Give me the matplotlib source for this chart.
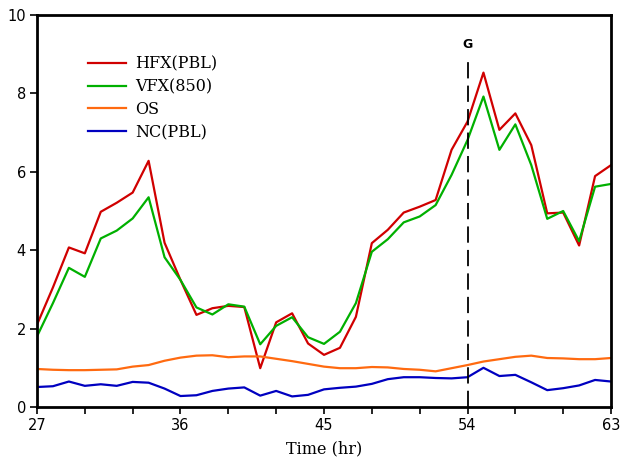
import numpy as np
import matplotlib
matplotlib.use("Agg")
import matplotlib.pyplot as plt

# hourly time axis (hr)
hours = list(range(27, 64))

hfx_pbl = [2.10, 3.05, 4.07, 3.92, 4.98, 5.21, 5.47, 6.28, 4.19, 3.24,
           2.35, 2.52, 2.58, 2.55, 0.99, 2.16, 2.39, 1.62, 1.33, 1.51,
           2.30, 4.18, 4.52, 4.96, 5.11, 5.28, 6.56, 7.28, 8.53, 7.07,
           7.49, 6.68, 4.94, 4.96, 4.12, 5.89, 6.17]

vfx_850 = [1.80, 2.65, 3.55, 3.32, 4.30, 4.50, 4.81, 5.35, 3.82, 3.24,
           2.54, 2.36, 2.62, 2.56, 1.60, 2.07, 2.29, 1.78, 1.61, 1.92,
           2.65, 3.96, 4.28, 4.71, 4.86, 5.15, 5.92, 6.81, 7.92, 6.56,
           7.21, 6.17, 4.80, 5.00, 4.23, 5.62, 5.69]

os_vals = [0.97, 0.95, 0.94, 0.94, 0.95, 0.96, 1.03, 1.07, 1.18, 1.26,
           1.31, 1.32, 1.27, 1.29, 1.29, 1.23, 1.17, 1.10, 1.03, 0.99,
           0.99, 1.02, 1.01, 0.97, 0.95, 0.91, 0.99, 1.07, 1.16, 1.22,
           1.28, 1.31, 1.25, 1.24, 1.22, 1.22, 1.25]

nc_pbl = [0.51, 0.53, 0.65, 0.54, 0.58, 0.54, 0.64, 0.62, 0.47, 0.28,
          0.30, 0.41, 0.47, 0.50, 0.29, 0.41, 0.27, 0.31, 0.45, 0.49,
          0.52, 0.59, 0.71, 0.76, 0.76, 0.74, 0.73, 0.76, 1.00, 0.79,
          0.82, 0.63, 0.43, 0.48, 0.55, 0.69, 0.65]

labels = ["HFX(PBL)", "VFX(850)", "OS", "NC(PBL)"]
colors = ["#d00000", "#00b000", "#ff6a10", "#0000c0"]

xticks = [27, 36, 45, 54, 63]
g_time = 54

fig = plt.figure(figsize=(6.27, 4.57), dpi=100)
ax = fig.add_axes([0.059, 0.1094, 0.9155, 0.8578])

for vals, lab, c in zip([hfx_pbl, vfx_850, os_vals, nc_pbl], labels, colors):
    ax.plot(hours, vals, color=c, lw=1.6, label=lab)

# marker line for "G"
ax.plot([g_time, g_time], [0, 8.9], color="black", lw=1.3, dashes=(9, 4))
ax.text(g_time, 9.08, "G", ha="center", va="bottom", fontsize=9,
        fontweight="bold", family="DejaVu Sans")

ax.set_xlim(27, 63)
ax.set_ylim(0, 10)
ax.set_xticks(xticks)
ax.set_xticks(range(27, 64, 3), minor=True)
ax.set_yticks(range(0, 11, 2))
ax.tick_params(which="both", direction="out", width=1.2, labelsize=10.5, pad=3)
ax.tick_params(which="major", length=5)
ax.tick_params(which="minor", length=5)
for sp in ax.spines.values():
    sp.set_linewidth(2)

ax.set_xlabel("Time (hr)", family="DejaVu Serif", fontsize=11.5, labelpad=5)

leg = ax.legend(loc="upper left", bbox_to_anchor=(0.064, 0.934), frameon=False,
                handlelength=2.4, handletextpad=0.55, labelspacing=0.37,
                prop={"family": "DejaVu Serif", "size": 11.5})

fig.savefig("out.png", dpi=100)
